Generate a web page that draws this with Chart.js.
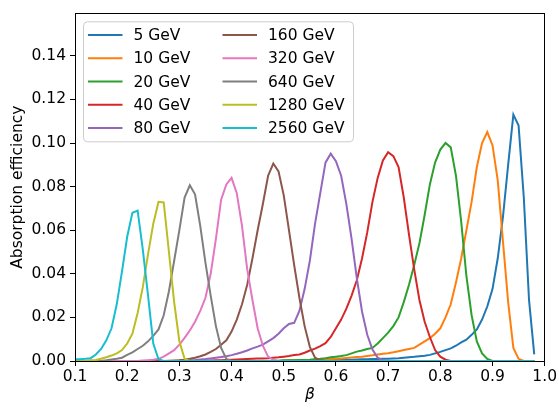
<!DOCTYPE html>
<html>
<head>
<meta charset="utf-8">
<script src="https://cdn.jsdelivr.net/npm/chart.js@4.4.1/dist/chart.umd.min.js"></script>
<style>
  html, body { margin: 0; padding: 0; background: #fff; }
</style>
</head>
<body>
<canvas id="chart" width="559" height="410"></canvas>
<script>
// beta bin positions
const beta = [
  0.10, 0.11, 0.12, 0.13, 0.14, 0.15, 0.16, 0.17, 0.18, 0.19,
  0.20, 0.21, 0.22, 0.23, 0.24, 0.25, 0.26, 0.27, 0.28, 0.29,
  0.30, 0.31, 0.32, 0.33, 0.34, 0.35, 0.36, 0.37, 0.38, 0.39,
  0.40, 0.41, 0.42, 0.43, 0.44, 0.45, 0.46, 0.47, 0.48, 0.49,
  0.50, 0.51, 0.52, 0.53, 0.54, 0.55, 0.56, 0.57, 0.58, 0.59,
  0.60, 0.61, 0.62, 0.63, 0.64, 0.65, 0.66, 0.67, 0.68, 0.69,
  0.70, 0.71, 0.72, 0.73, 0.74, 0.75, 0.76, 0.77, 0.78, 0.79,
  0.80, 0.81, 0.82, 0.83, 0.84, 0.85, 0.86, 0.87, 0.88, 0.89,
  0.90, 0.91, 0.92, 0.93, 0.94, 0.95, 0.96, 0.97, 0.98
];

const energies = ['5 GeV', '10 GeV', '20 GeV', '40 GeV', '80 GeV',
                  '160 GeV', '320 GeV', '640 GeV', '1280 GeV', '2560 GeV'];

const colors = ['#1f77b4', '#ff7f0e', '#2ca02c', '#d62728', '#9467bd',
                '#8c564b', '#e377c2', '#7f7f7f', '#bcbd22', '#17becf'];

const eff5 = [
  0, 0, 0, 0, 0, 0, 0, 0, 0, 0,
  0, 0, 0, 0, 0, 0, 0, 0, 0, 0,
  0, 0, 0, 0, 0, 0, 0, 0, 0, 0,
  0, 0, 0, 0, 0, 0, 0, 0, 0.0001, 0.0001,
  0.0002, 0.0002, 0.0002, 0.0003, 0.0003, 0.0003, 0.0004, 0.0004, 0.0004, 0.0005,
  0.0005, 0.0005, 0.0006, 0.0006, 0.0007, 0.0008, 0.0008, 0.0009, 0.0009, 0.001,
  0.001, 0.0012, 0.0013, 0.0015, 0.0017, 0.0019, 0.0022, 0.0024, 0.0028, 0.0035,
  0.0042, 0.005, 0.0058, 0.007, 0.0085, 0.0098, 0.012, 0.0145, 0.019, 0.025,
  0.033, 0.047, 0.066, 0.09, 0.113, 0.108, 0.075, 0.028, 0.003
];
const eff10 = [
  0, 0, 0, 0, 0, 0, 0, 0, 0, 0,
  0, 0, 0, 0, 0, 0, 0, 0, 0, 0,
  0, 0, 0, 0, 0, 0, 0, 0, 0, 0,
  0, 0, 0, 0, 0, 0, 0, 0, 0, 0,
  0.0002, 0.0002, 0.0003, 0.0003, 0.0004, 0.0005, 0.0006, 0.0007, 0.0008, 0.0009,
  0.001, 0.0012, 0.0014, 0.0016, 0.0018, 0.002, 0.0023, 0.0026, 0.003, 0.0033,
  0.0036, 0.004, 0.0045, 0.005, 0.0055, 0.006, 0.0075, 0.009, 0.0105, 0.0125,
  0.015, 0.02, 0.026, 0.036, 0.047, 0.06, 0.073, 0.089, 0.1, 0.105,
  0.099, 0.083, 0.055, 0.027, 0.006, 0.001, 0, 0, 0
];
const eff20 = [
  0, 0, 0, 0, 0, 0, 0, 0, 0, 0,
  0, 0, 0, 0, 0, 0, 0, 0, 0, 0,
  0, 0, 0, 0, 0, 0, 0, 0, 0, 0,
  0, 0, 0, 0, 0, 0, 0, 0, 0, 0,
  0.0002, 0.0003, 0.0004, 0.0005, 0.0005, 0.0006, 0.0008, 0.001, 0.0013, 0.0017,
  0.002, 0.0023, 0.0027, 0.0035, 0.0043, 0.0048, 0.0055, 0.006, 0.008, 0.0105,
  0.013, 0.016, 0.02, 0.027, 0.035, 0.044, 0.054, 0.067, 0.081, 0.091,
  0.097, 0.1, 0.098, 0.085, 0.064, 0.039, 0.021, 0.009, 0.0035, 0.001,
  0, 0, 0, 0, 0, 0, 0, 0, 0
];
const eff40 = [
  0, 0, 0, 0, 0, 0, 0, 0, 0, 0,
  0, 0, 0, 0, 0, 0, 0, 0, 0, 0,
  0, 0, 0, 0, 0, 0, 0.0002, 0.0003, 0.0004, 0.0005,
  0.0006, 0.0007, 0.0008, 0.0009, 0.001, 0.0011, 0.0012, 0.0013, 0.0015, 0.0017,
  0.002, 0.0023, 0.0027, 0.003, 0.0038, 0.0048, 0.0057, 0.0068, 0.0082, 0.011,
  0.015, 0.019, 0.024, 0.03, 0.037, 0.047, 0.059, 0.073, 0.084, 0.092,
  0.0958, 0.094, 0.089, 0.075, 0.058, 0.042, 0.028, 0.018, 0.011, 0.005,
  0.002, 0.0006, 0, 0, 0, 0, 0, 0, 0, 0,
  0, 0, 0, 0, 0, 0, 0, 0, 0
];
const eff80 = [
  0, 0, 0, 0, 0, 0, 0, 0, 0, 0,
  0, 0, 0, 0, 0, 0, 0, 0, 0, 0,
  0.0002, 0.0003, 0.0004, 0.0005, 0.0007, 0.0009, 0.0012, 0.0015, 0.0018, 0.0022,
  0.0027, 0.0033, 0.004, 0.0048, 0.0058, 0.0066, 0.0075, 0.009, 0.0105, 0.0125,
  0.015, 0.017, 0.0175, 0.023, 0.033, 0.046, 0.063, 0.077, 0.091, 0.0951,
  0.0917, 0.085, 0.072, 0.056, 0.038, 0.0227, 0.012, 0.0053, 0.0015, 0.0003,
  0, 0, 0, 0, 0, 0, 0, 0, 0, 0,
  0, 0, 0, 0, 0, 0, 0, 0, 0, 0,
  0, 0, 0, 0, 0, 0, 0, 0, 0
];
const eff160 = [
  0, 0, 0, 0, 0, 0, 0, 0, 0, 0,
  0, 0, 0, 0, 0, 0, 0, 0, 0.0001, 0.0002,
  0.0003, 0.0006, 0.001, 0.0015, 0.0022, 0.003, 0.0042, 0.0055, 0.0075, 0.0095,
  0.0135, 0.019, 0.026, 0.035, 0.047, 0.06, 0.072, 0.085, 0.0906, 0.087,
  0.076, 0.06, 0.044, 0.029, 0.016, 0.0065, 0.0015, 0.0003, 0, 0,
  0, 0, 0, 0, 0, 0, 0, 0, 0, 0,
  0, 0, 0, 0, 0, 0, 0, 0, 0, 0,
  0, 0, 0, 0, 0, 0, 0, 0, 0, 0,
  0, 0, 0, 0, 0, 0, 0, 0, 0
];
const eff320 = [
  0, 0, 0, 0, 0, 0, 0, 0, 0, 0,
  0, 0, 0, 0.0002, 0.0004, 0.0006, 0.001, 0.002, 0.0035, 0.005,
  0.0075, 0.0106, 0.014, 0.018, 0.023, 0.029, 0.04, 0.056, 0.074, 0.081,
  0.084, 0.077, 0.062, 0.042, 0.028, 0.015, 0.007, 0.002, 0.0005, 0,
  0, 0, 0, 0, 0, 0, 0, 0, 0, 0,
  0, 0, 0, 0, 0, 0, 0, 0, 0, 0,
  0, 0, 0, 0, 0, 0, 0, 0, 0, 0,
  0, 0, 0, 0, 0, 0, 0, 0, 0, 0,
  0, 0, 0, 0, 0, 0, 0, 0, 0
];
const eff640 = [
  0, 0, 0, 0, 0, 0, 0.0003, 0.0007, 0.001, 0.0015,
  0.0028, 0.004, 0.0055, 0.007, 0.009, 0.0115, 0.0145, 0.021, 0.032, 0.046,
  0.06, 0.075, 0.0806, 0.0765, 0.062, 0.045, 0.03, 0.016, 0.006, 0.001,
  0, 0, 0, 0, 0, 0, 0, 0, 0, 0,
  0, 0, 0, 0, 0, 0, 0, 0, 0, 0,
  0, 0, 0, 0, 0, 0, 0, 0, 0, 0,
  0, 0, 0, 0, 0, 0, 0, 0, 0, 0,
  0, 0, 0, 0, 0, 0, 0, 0, 0, 0,
  0, 0, 0, 0, 0, 0, 0, 0, 0
];
const eff1280 = [
  0, 0, 0, 0.0003, 0.0005, 0.001, 0.0017, 0.0025, 0.0035, 0.005,
  0.008, 0.0125, 0.022, 0.034, 0.049, 0.063, 0.073, 0.0727, 0.05, 0.027,
  0.009, 0.001, 0, 0, 0, 0, 0, 0, 0, 0,
  0, 0, 0, 0, 0, 0, 0, 0, 0, 0,
  0, 0, 0, 0, 0, 0, 0, 0, 0, 0,
  0, 0, 0, 0, 0, 0, 0, 0, 0, 0,
  0, 0, 0, 0, 0, 0, 0, 0, 0, 0,
  0, 0, 0, 0, 0, 0, 0, 0, 0, 0,
  0, 0, 0, 0, 0, 0, 0, 0, 0
];
const eff2560 = [
  0.0008, 0.0008, 0.001, 0.0013, 0.003, 0.0055, 0.0095, 0.015, 0.026, 0.041,
  0.057, 0.068, 0.069, 0.051, 0.03, 0.008, 0.0008, 0, 0, 0,
  0, 0, 0, 0, 0, 0, 0, 0, 0, 0,
  0, 0, 0, 0, 0, 0, 0, 0, 0, 0,
  0, 0, 0, 0, 0, 0, 0, 0, 0, 0,
  0, 0, 0, 0, 0, 0, 0, 0, 0, 0,
  0, 0, 0, 0, 0, 0, 0, 0, 0, 0,
  0, 0, 0, 0, 0, 0, 0, 0, 0, 0,
  0, 0, 0, 0, 0, 0, 0, 0, 0
];

const series = [eff5, eff10, eff20, eff40, eff80, eff160, eff320, eff640, eff1280, eff2560];

const xTicks = [0.1, 0.2, 0.3, 0.4, 0.5, 0.6, 0.7, 0.8, 0.9, 1.0];
const yTicks = [0.00, 0.02, 0.04, 0.06, 0.08, 0.10, 0.12, 0.14];

const FONT = 'DejaVu Sans';
const FSIZE = 15.5;

Chart.defaults.font.family = FONT;
Chart.defaults.font.size = FSIZE;
Chart.defaults.color = '#000';

// matplotlib style frame + legend inside the axes
const frameAndLegend = {
  id: 'frameAndLegend',
  afterDatasetsDraw(chart) {
    const ctx = chart.ctx;
    const a = chart.chartArea;
    ctx.save();
    ctx.strokeStyle = '#000';
    ctx.lineWidth = 1;
    ctx.strokeRect(Math.round(a.left) + 0.5, Math.round(a.top) + 0.5,
                   Math.round(a.right - a.left) - 1, Math.round(a.bottom - a.top));

    const bx = a.left + 8.5, by = a.top + 8.5, bw = 270, bh = 120;
    ctx.beginPath();
    ctx.roundRect(bx, by, bw, bh, 4);
    ctx.fillStyle = 'rgba(255,255,255,0.8)';
    ctx.fill();
    ctx.strokeStyle = '#cccccc';
    ctx.stroke();

    ctx.font = FSIZE + 'px "' + FONT + '"';
    ctx.textBaseline = 'middle';
    ctx.textAlign = 'left';
    chart.data.datasets.forEach((ds, i) => {
      const col = Math.floor(i / 5), row = i % 5;
      const lx = bx + 4.5 + col * 134.5;
      const ly = by + 13.3 + row * 23.2;
      ctx.beginPath();
      ctx.moveTo(lx, ly);
      ctx.lineTo(lx + 34.5, ly);
      ctx.strokeStyle = ds.borderColor;
      ctx.lineWidth = 2;
      ctx.stroke();
      ctx.fillStyle = '#000';
      ctx.fillText(ds.label, lx + 45.5, ly + 1);
    });
    ctx.restore();
  }
};

new Chart(document.getElementById('chart'), {
  type: 'line',
  data: {
    datasets: series.map((s, i) => ({
      label: energies[i],
      data: beta.map((b, j) => ({ x: b, y: s[j] })),
      borderColor: colors[i],
      borderWidth: 2,
      pointRadius: 0,
      tension: 0,
      fill: false,
      order: -i
    }))
  },
  options: {
    responsive: false,
    animation: false,
    events: [],
    layout: { padding: { left: 0, top: 8, right: 12, bottom: 0 } },
    plugins: {
      legend: { display: false },
      tooltip: { enabled: false }
    },
    scales: {
      x: {
        type: 'linear',
        min: 0.1,
        max: 1.0,
        afterBuildTicks: (scale) => { scale.ticks = xTicks.map(v => ({ value: v })); },
        afterFit: (scale) => { scale.height = 49; },
        ticks: {
          padding: 2,
          maxRotation: 0,
          callback: (v) => v.toFixed(1)
        },
        grid: { drawOnChartArea: false, drawTicks: true, tickLength: 5, color: '#000' },
        border: { display: false },
        title: {
          display: true,
          text: 'β',
          font: { family: FONT, size: FSIZE, style: 'italic' },
          padding: { top: 0, bottom: 6 }
        }
      },
      y: {
        min: 0,
        max: 0.1595,
        afterBuildTicks: (scale) => { scale.ticks = yTicks.map(v => ({ value: v })); },
        afterFit: (scale) => { scale.width = 75; },
        ticks: {
          padding: 4,
          callback: (v) => v.toFixed(2)
        },
        grid: { drawOnChartArea: false, drawTicks: true, tickLength: 5, color: '#000' },
        border: { display: false },
        title: {
          display: true,
          text: 'Absorption efficiency',
          font: { family: FONT, size: FSIZE },
          padding: { top: 9, bottom: 0 }
        }
      }
    }
  },
  plugins: [frameAndLegend]
});
</script>
</body>
</html>
